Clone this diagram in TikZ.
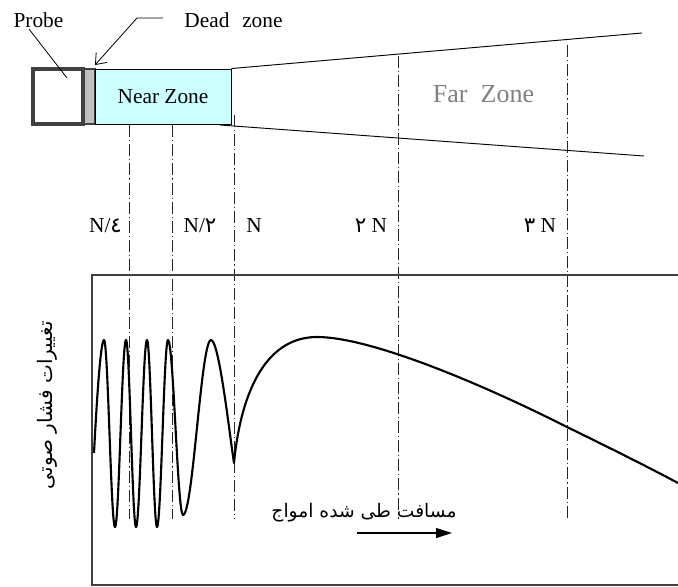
\documentclass[tikz,border=0pt]{standalone}
\usepackage{fontspec}
\setmainfont{Liberation Serif}
\newfontfamily\arabicfont[Script=Arabic]{DejaVu Sans}
\TeXXeTstate=1
\usetikzlibrary{arrows.meta}
\definecolor{nearcyan}{HTML}{CCFFFF}
\definecolor{framegray}{HTML}{404040}
\definecolor{fargray}{HTML}{808080}
\definecolor{deadgray}{HTML}{C0C0C0}
\tikzset{
  lbl/.style={font=\fontsize{16}{18}\selectfont, inner sep=0pt, anchor=base},
  arlbl/.style={font=\arabicfont\fontsize{14}{16}\selectfont, inner sep=0pt},
  dashdot/.style={line width=0.7pt, draw=black!85, dash pattern=on 9pt off 2.2pt on 1pt off 2.2pt},
  curveline/.style={line width=1.6pt, line join=round},
  frameline/.style={draw=framegray, line width=1.6pt},
  beamline/.style={line width=0.7pt},
  leader/.style={line width=0.6pt},
  boxnode/.style={inner sep=0pt, minimum height=41.25pt}
}
\begin{document}
\begin{tikzpicture}[x=0.75pt,y=-0.75pt]
\useasboundingbox (0,0) rectangle (678,586);

% probe, dead zone, near zone
\node[boxnode, draw=framegray, fill=deadgray, line width=1pt, minimum width=9pt] (dead) at (89,96.5) {};
\node[boxnode, draw=framegray, line width=2.3pt, minimum width=37.5pt] (probe) at (58,96.5) {};
\node[boxnode, draw=black, fill=nearcyan, line width=0.7pt, minimum width=102pt, font=\fontsize{16}{18}\selectfont] (near) at (163,96.5) {Near Zone};

% beam lines
\coordinate (bt) at (642,33);
\coordinate (bbs) at (220,125);
\coordinate (bb) at (644,156);
\draw[beamline] (near.north east) -- (bt);
\draw[beamline] (bbs) -- (bb);

\node[font=\fontsize{19.5}{22}\selectfont, text=fargray, anchor=base, inner sep=0pt] (far) at (483.5,102) {Far\ \ Zone};

% labels top
\node[lbl] (probelbl) at (38.5,27) {Probe};
\node[lbl] (deadlbl) at (233.5,27) {Dead\hspace{0.6em}zone};
\coordinate (pl1) at (29,29);
\coordinate (pl2) at (67,78);
\draw[leader] (pl1) -- (pl2);
\coordinate (dl1) at (163,18);
\coordinate (dl2) at (137,18);
\coordinate (dl3) at (95,65);
\draw[leader, -{Straight Barb[length=7pt,width=11pt]}] (dl1) -- (dl2) -- (dl3);

% dash-dot lines
\foreach \n/\x/\yt in {a/129/125, b/172/125, c/234/115, d/398/56, e/567/45} {
  \coordinate (\n t) at (\x,\yt);
  \coordinate (\n b) at (\x,519);
  \draw[dashdot] (\n t) -- (\n b);
}

% N labels
\node[lbl] (l1) at (105.5,232) {N/{\arabicfont ٤}};
\node[lbl] (l2) at (200,232) {N/{\arabicfont ٢}};
\node[lbl] (l3) at (254,232) {N};
\node[lbl] (l4) at (371,232) {{\arabicfont ٢} N};
\node[lbl] (l5) at (540,232) {{\arabicfont ٣} N};

% plot frame
\coordinate (ftr) at (678,275);
\coordinate (ftl) at (92,275);
\coordinate (fbl) at (92,585);
\coordinate (fbr) at (678,585);
\draw[frameline] (ftr) -- (ftl) -- (fbl) -- (fbr);

% pressure curve
\draw[curveline] (94,453)
  .. controls (96.5,405) and (100.5,340) .. (104,340)
  .. controls (108,340) and (111,527) .. (115,527)
  .. controls (119,527) and (122,340) .. (126,340)
  .. controls (129.6,340) and (132.4,527) .. (136,527)
  .. controls (140,527) and (143,340) .. (147,340)
  .. controls (150.6,340) and (153.4,527) .. (157,527)
  .. controls (161,527) and (164,340) .. (168,340)
  .. controls (173.4,340) and (177.6,515) .. (183,515)
  .. controls (193,515) and (201,340) .. (211,340)
  .. controls (219,340) and (229,430) .. (234,463)
  .. controls (240,400) and (262,337) .. (317,337)
  .. controls (370,337) and (480,383) .. (567,427)
  .. controls (610,448) and (650,468) .. (678,483);

% distance arrow and labels
\coordinate (as) at (357,533);
\coordinate (ae) at (452,533);
\draw[line width=0.8pt, -{Triangle[length=12pt,width=7.5pt]}] (as) -- (ae);
\node[arlbl, anchor=base] (dist) at (364,517) {\beginR مسافت طی شده امواج\endR};
\node[arlbl, font=\arabicfont\fontsize{15}{17}\selectfont, rotate=90] (press) at (47,405) {\beginR تغییرات فشار صوتی\endR};
\end{tikzpicture}
\end{document}
